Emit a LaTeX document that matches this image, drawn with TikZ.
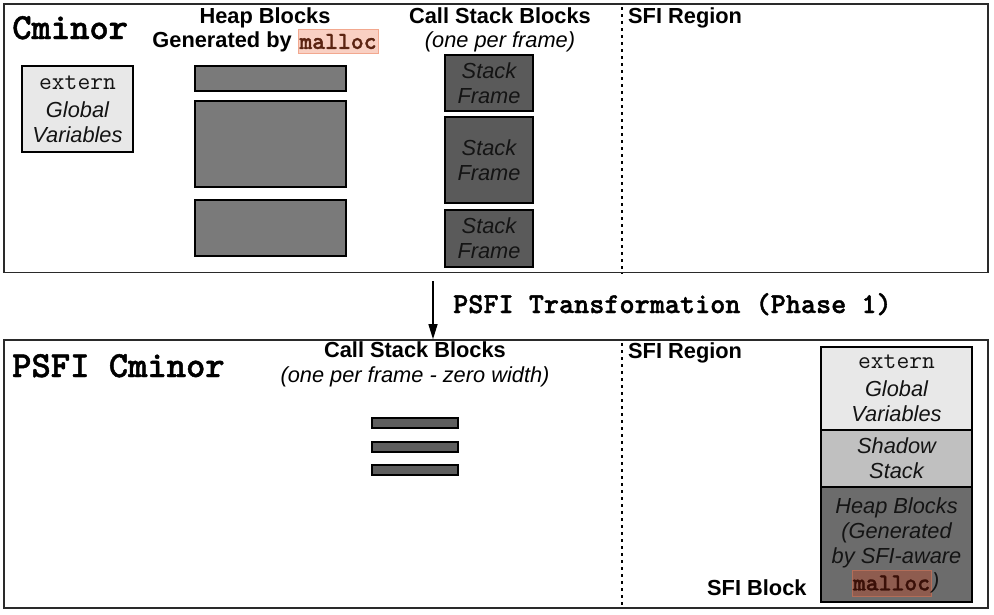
\documentclass[tikz,border=0pt]{standalone}
\usepackage{fontspec}
\setmainfont{Liberation Sans}
\newfontfamily\courb{lmmonolt10-bold.otf}[FakeBold=1.3]
\newcommand\cour{\ttfamily}
\usetikzlibrary{arrows.meta}
\definecolor{framec}{HTML}{2A2A2A}
\definecolor{lightg}{HTML}{E8E8E8}
\definecolor{midg}{HTML}{C0C0C0}
\definecolor{heapg}{HTML}{7A7A7A}
\definecolor{heapdk}{HTML}{6C6C6C}
\definecolor{stackg}{HTML}{5A5A5A}
\definecolor{barg}{HTML}{5E5E5E}
\definecolor{hlfill}{HTML}{F9D0C3}
\definecolor{hldraw}{HTML}{F2A88F}
\definecolor{hltext}{HTML}{5B2412}
\definecolor{hlfilldk}{HTML}{8E5C4F}
\definecolor{hldrawdk}{HTML}{B36D58}
\definecolor{hltextdk}{HTML}{3A1008}
\begin{document}
\begin{tikzpicture}[x=1pt,y=-1pt,
  region/.style={draw=framec, line width=1.7pt, inner sep=0},
  blk/.style={draw=black, line width=1.3pt, inner sep=0, align=center,
    font=\fontsize{21.8}{25}\selectfont\itshape, text=black!92},
  ttl/.style={inner sep=0, anchor=base, font=\fontsize{21.8}{25}\selectfont\bfseries},
  itl/.style={inner sep=0, anchor=base, font=\fontsize{21.8}{25}\selectfont\itshape},
  bigmono/.style={inner sep=0, anchor=base west, font=\courb\fontsize{36.8}{40}\selectfont},
  sep/.style={line width=1.5pt, dash pattern=on 2.5pt off 4.5pt},
  hl/.style={inner sep=0, minimum width=80pt, minimum height=24pt, line width=0.8pt,
    fill=hlfill, draw=hldraw, text=hltext, font=\courb\fontsize{24.5}{26}\selectfont},
  hldk/.style={inner sep=0, minimum width=79pt, minimum height=26pt, line width=0.8pt,
    fill=hlfilldk, draw=hldrawdk, text=hltextdk, font=\courb\fontsize{24.5}{26}\selectfont}
]
\useasboundingbox (0,0) rectangle (994,614);

% ---------- containers ----------
\node[region, minimum width=984pt, minimum height=268.5pt] (top) at (496,138.25) {};
\node[region, minimum width=984pt, minimum height=268pt] (bot) at (496,474) {};

% ---------- top: Cminor ----------
\node[bigmono] (cm) at (12,39) {Cminor};
\node[blk, fill=lightg, minimum width=111pt, minimum height=86pt] (ext1) at (77.5,109)
  {{\upshape\cour\fontsize{24.8}{25}\selectfont extern}\\[3pt]Global\\Variables};

\node[ttl] (hbt1) at (265,23) {Heap Blocks};
\node[ttl, anchor=base east] (hbt2) at (292,47) {Generated by};
\node[hl] (m1) at (338,41.5) {malloc};

\node[blk, fill=heapg, minimum width=151pt, minimum height=25pt] (hb1) at (270.5,78.5) {};
\node[blk, fill=heapg, minimum width=151pt, minimum height=86pt] (hb2) at (270.5,144) {};
\node[blk, fill=heapg, minimum width=151pt, minimum height=56pt] (hb3) at (270.5,228) {};

\node[ttl] (csb1) at (500,23) {Call Stack Blocks};
\node[itl] (csb2) at (500,47) {(one per frame)};
\node[blk, fill=stackg, minimum width=88pt, minimum height=56pt] (sf1) at (489,83) {Stack\\Frame};
\node[blk, fill=stackg, minimum width=88pt, minimum height=86pt] (sf2) at (489,160) {Stack\\Frame};
\node[blk, fill=stackg, minimum width=88pt, minimum height=57pt] (sf3) at (489,238.5) {Stack\\Frame};

\coordinate (d1t) at (622,7);
\draw[sep] (d1t) -- (d1t |- top.south);
\node[ttl, anchor=base west] (sfi1) at (628,23) {SFI Region};

% ---------- transformation arrow ----------
\coordinate (arrS) at (433,281);
\draw[line width=1.3pt, -{Triangle[length=15pt,width=9pt]}] (arrS) -- (arrS |- bot.north);
\node[inner sep=0, anchor=base west, font=\courb\fontsize{28.8}{30}\selectfont] (tr) at (453,313)
  {PSFI Transformation (Phase 1)};

% ---------- bottom: PSFI Cminor ----------
\node[bigmono] (pcm) at (12,377) {PSFI Cminor};
\node[ttl] (pcsb1) at (415,357) {Call Stack Blocks};
\node[itl] (pcsb2) at (415,382) {(one per frame - zero width)};
\node[blk, fill=barg, minimum width=86pt, minimum height=10pt] (bar1) at (415,423) {};
\node[blk, fill=barg, minimum width=86pt, minimum height=10pt] (bar2) at (415,447) {};
\node[blk, fill=barg, minimum width=86pt, minimum height=10pt] (bar3) at (415,470) {};

\coordinate (d2t) at (622,343);
\draw[sep] (d2t) -- (d2t |- bot.south);
\node[ttl, anchor=base west] (sfi2) at (628,358) {SFI Region};
\node[ttl, anchor=base west] (sfib) at (707,595) {SFI Block};

\node[blk, fill=lightg, minimum width=151pt, minimum height=83pt] (ge) at (896.5,388.5)
  {{\upshape\cour\fontsize{24.8}{25}\selectfont extern}\\[3pt]Global\\Variables};
\node[blk, fill=midg, minimum width=151pt, minimum height=57pt] (ss) at (896.5,458.5) {Shadow\\Stack};
\node[blk, fill=heapdk, minimum width=151pt, minimum height=115pt] (hp) at (896.5,544.5) {};
\node[inner sep=0, align=center, font=\fontsize{21.8}{25}\selectfont\itshape, text=black!92] (hpt) at (896.5,532.5)
  {Heap Blocks\\(Generated\\by SFI-aware};
\node[hldk] (m2) at (891.5,583) {malloc};
\node[inner sep=0, anchor=base west, font=\fontsize{21.8}{25}\selectfont\itshape, text=black!92] (hpp) at (932,588) {)};
\end{tikzpicture}
\end{document}
